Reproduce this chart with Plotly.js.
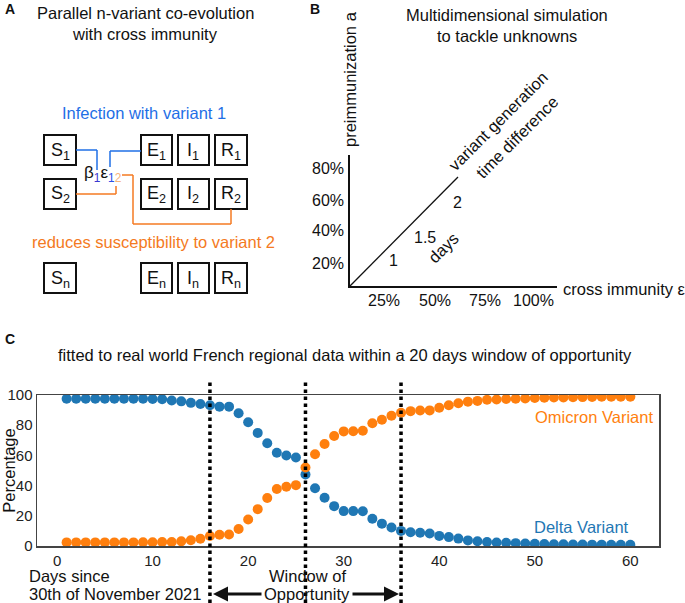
<!DOCTYPE html>
<html><head><meta charset="utf-8">
<script src="https://cdn.plot.ly/plotly-3.0.1.min.js"></script>
<style>html,body{margin:0;padding:0;background:#fff}#chart{width:685px;height:603px}</style>
</head><body><div id="chart"></div>
<script>
// ---- Panel C data ----
const days = [1,2,3,4,5,6,7,8,9,10,11,12,13,14,15,16,17,18,19,20,21,22,23,24,25,26,27,28,29,30,31,32,33,34,35,36,37,38,39,40,41,42,43,44,45,46,47,48,49,50,51,52,53,54,55,56,57,58,59,60];
const deltaPct = [97.5,97.5,97.5,97.5,97.5,97.5,97.5,97.5,97.5,97.4,97.2,96.4,95.8,94.8,94.0,93.2,92.3,92.3,87.9,81.9,74.9,68.0,61.7,59.9,58.6,47.4,38.3,32.0,26.4,23.1,23.1,23.0,18.1,14.8,12.3,10.0,9.1,8.8,8.3,6.7,5.9,4.9,3.7,3.2,2.6,2.3,2.1,1.9,1.7,1.5,1.3,1.2,1.1,1.0,1.0,0.9,0.9,0.8,0.8,0.8];
const omicronPct = [2.4,2.4,2.4,2.4,2.4,2.4,2.4,2.4,2.5,2.5,2.6,2.7,3.1,3.8,4.8,6.6,7.4,7.6,11.3,17.6,24.4,31.8,37.8,39.2,40.3,52.0,60.8,67.6,72.9,75.9,76.0,76.3,81.3,83.6,86.3,88.3,89.3,89.7,89.8,91.5,93.2,94.5,95.6,96.1,96.8,97.0,97.3,97.5,97.7,98.0,98.2,98.3,98.4,98.5,98.6,98.7,98.8,98.8,98.9,98.9];
const windowDays = [16, 26, 36];
const xTicks = [0,10,20,30,40,50,60];
const yTicks = [0,20,40,60,80,100];
// ---- Panel B labels ----
const bXTickLabels = ['25%','50%','75%','100%'];
const bYTickLabels = ['80%','60%','40%','20%'];
const bDiagLabels = ['1','1.5','2'];
// ---- Panel A compartments ----
const rowLabels = ['1','2','n'];
const compartments = ['S','E','I','R'];

const W = 685, H = 603;
const X = p => p / W, Y = p => 1 - p / H;
const FONT = 'Liberation Sans, Arial, sans-serif';
const FS = 16.5;
const BLUE = '#1f77b4', ORANGE = '#ff7f0e';
const ABLUE = '#1f6fe6', AORANGE = '#f47a22';

const ann = [], shapes = [];
function txt(t, x, y, o) {
  ann.push(Object.assign({text: t, x: X(x), y: Y(y), xref: 'paper', yref: 'paper', showarrow: false,
    xanchor: 'center', yanchor: 'middle', font: {family: FONT, size: FS, color: '#111'}}, o || {}));
}
function f(size, color) { return {family: FONT, size: size, color: color || '#111'}; }
function line(x0, y0, x1, y1, color, w) {
  shapes.push({type: 'line', xref: 'paper', yref: 'paper', x0: X(x0), y0: Y(y0), x1: X(x1), y1: Y(y1),
    line: {color: color, width: w}});
}
function box(x0, y0, x1, y1) {
  shapes.push({type: 'rect', xref: 'paper', yref: 'paper', x0: X(x0), y0: Y(y0), x1: X(x1), y1: Y(y1),
    line: {color: '#111', width: 2}, fillcolor: 'rgba(0,0,0,0)'});
}

// ---- Panel A ----
txt('<b>A</b>', 10, 9, {font: f(14)});
txt('Parallel n-variant co-evolution', 145, 13);
txt('with cross immunity', 145, 34);
txt('Infection with variant 1', 144, 113, {font: f(FS, ABLUE)});
txt('reduces susceptibility to variant 2', 153, 242, {font: f(FS, AORANGE)});
const rowY = [[135,165],[179,209],[263,293]];
const colX = [[44,76],[141,172],[178,209],[215,247]];
rowLabels.forEach((r, i) => {
  compartments.forEach((c, j) => {
    const [x0, x1] = colX[j], [y0, y1] = rowY[i];
    box(x0, y0, x1, y1);
    txt(c + '<sub>' + r + '</sub>', (x0 + x1) / 2, (y0 + y1) / 2 + 1, {font: f(18)});
  });
});
// connectors
line(76, 150, 97, 150, ABLUE, 1.5); line(97, 150, 97, 170, ABLUE, 1.5);
line(141, 151, 110, 151, ABLUE, 1.5); line(110, 151, 110, 167, ABLUE, 1.5);
line(76, 194, 116, 194, AORANGE, 1.5); line(116, 194, 116, 186, AORANGE, 1.5);
line(122, 175, 133, 175, AORANGE, 1.5); line(133, 175, 133, 224, AORANGE, 1.5);
line(133, 224, 231, 224, AORANGE, 1.5); line(231, 224, 231, 209, AORANGE, 1.5);
txt('β<sub><span style="color:#3838d0">1</span></sub>ε<sub><span style="color:#2a4ee8">1</span><span style="color:#f5b27a">2</span></sub>',
    103, 174, {font: f(17)});

// ---- Panel B ----
txt('<b>B</b>', 315, 9, {font: f(14)});
txt('Multidimensional simulation', 507, 15);
txt('to tackle unknowns', 507, 36);
line(349, 155, 349, 288, '#111', 2);
line(348, 287, 557, 287, '#111', 2);
line(349, 287, 458, 177, '#111', 1.3);
txt('preimmunization a', 350, 79, {textangle: -90});
txt('cross immunity ε', 561, 289, {xanchor: 'left'});
const bxPos = [384, 435, 485, 533];
bXTickLabels.forEach((t, i) => txt(t, bxPos[i], 300, {font: f(16)}));
const byPos = [169, 201, 231, 263];
bYTickLabels.forEach((t, i) => txt(t, 346, byPos[i], {xanchor: 'right', font: f(16)}));
const bdPos = [[393, 261], [425, 237], [457, 202]];
bDiagLabels.forEach((t, i) => txt(t, bdPos[i][0], bdPos[i][1], {font: f(16)}));
txt('days', 443, 248, {textangle: -45});
txt('variant generation', 498, 121, {textangle: -45});
txt('time difference', 517, 137, {textangle: -45});

// ---- Panel C ----
txt('<b>C</b>', 10, 339, {font: f(14)});
txt('fitted to real world French regional data within a 20 days window of opportunity', 345, 355);
txt('Days since', 27, 576, {xanchor: 'left'});
txt('30th of November 2021', 27, 594, {xanchor: 'left'});
txt('Window of', 307, 576);
txt('Opportunity', 307, 594);
txt('Omicron Variant', 655, 417, {xanchor: 'right', font: f(FS, ORANGE)});
txt('Delta Variant', 631, 527, {xanchor: 'right', font: f(FS, BLUE)});
// window arrows
ann.push({text: '', xref: 'paper', yref: 'paper', x: X(213), y: Y(594), ax: 50, ay: 0,
  showarrow: true, arrowhead: 2, arrowsize: 1, arrowwidth: 3, arrowcolor: '#111'});
ann.push({text: '', xref: 'paper', yref: 'paper', x: X(399), y: Y(594), ax: -48, ay: 0,
  showarrow: true, arrowhead: 2, arrowsize: 1, arrowwidth: 3, arrowcolor: '#111'});
windowDays.forEach(d => shapes.push({type: 'line', xref: 'x', yref: 'paper', x0: d, x1: d,
  y0: Y(603), y1: Y(382), line: {color: '#000', width: 3.5, dash: 'dot'}}));

const traces = [
  {x: days, y: deltaPct, type: 'scatter', mode: 'markers', name: 'Delta Variant',
   marker: {color: BLUE, size: 10}},
  {x: days, y: omicronPct, type: 'scatter', mode: 'markers', name: 'Omicron Variant',
   marker: {color: ORANGE, size: 10}}
];
const layout = {
  width: W, height: H, margin: {l: 0, r: 0, t: 0, b: 0}, showlegend: false,
  paper_bgcolor: '#fff', plot_bgcolor: '#fff',
  font: {family: FONT, color: '#111'},
  xaxis: {domain: [X(37), X(659)], range: [-2.1, 63], tickvals: xTicks, showgrid: false, zeroline: false,
    showline: true, mirror: true, linecolor: '#444', linewidth: 1.5, ticks: '', tickfont: {size: 15, color: '#222'}},
  yaxis: {domain: [Y(546), Y(395)], range: [0, 100], tickvals: yTicks, showgrid: false, zeroline: false,
    showline: true, mirror: true, linecolor: '#444', linewidth: 1.5, ticks: '', tickfont: {size: 15, color: '#222'},
    title: {text: 'Percentage', font: {size: 16.5, color: '#111'}, standoff: 2}},
  annotations: ann, shapes: shapes
};
Plotly.newPlot('chart', traces, layout, {staticPlot: true});
</script></body></html>
